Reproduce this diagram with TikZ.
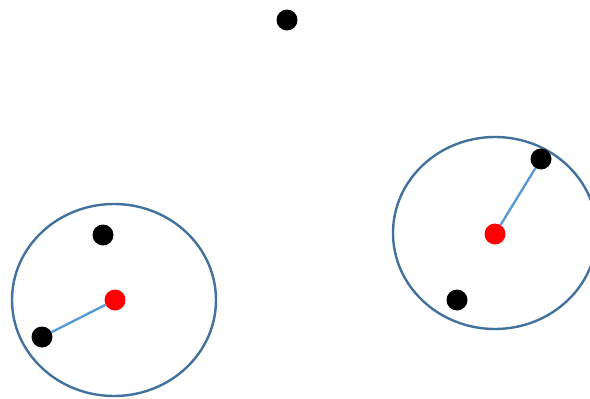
\documentclass[tikz,border=0pt]{standalone}
\usetikzlibrary{positioning}
\definecolor{ringblue}{HTML}{41719C}
\definecolor{linkblue}{HTML}{5B9BD5}
\tikzset{
    point/.style={circle, fill=black, inner sep=0pt, minimum size=21pt},
    centre/.style={circle, fill=red, inner sep=0pt, minimum size=21pt},
    ring/.style={ringblue, line width=2.4pt},
    link/.style={linkblue, line width=2.4pt}
}
\begin{document}
\begin{tikzpicture}[x=1pt, y=-1pt]
            \useasboundingbox (0,0) rectangle (590,399);
            \clip (0,0) rectangle (590,399);
            % lone point
            \node[point] (p0) at (287,20) {};

            % left cluster
            \begin{scope}
                \draw[ring] (114,300) ellipse [x radius=102, y radius=96];
                \node[point] (p1) at (103,235) {};
                \node[point] (p2) at (42,337) {};
                \node[centre] (c1) at (115,300) {};
                \draw[link] (c1) -- (p2);
            \end{scope}

            % right cluster
            \begin{scope}
                \draw[ring] (495,233) ellipse [x radius=102, y radius=96];
                \node[point] (p3) at (541,159) {};
                \node[point] (p4) at (457,300) {};
                \node[centre] (c2) at (495,234) {};
                \draw[link] (c2) -- (p3);
            \end{scope}
        \end{tikzpicture}
\end{document}
